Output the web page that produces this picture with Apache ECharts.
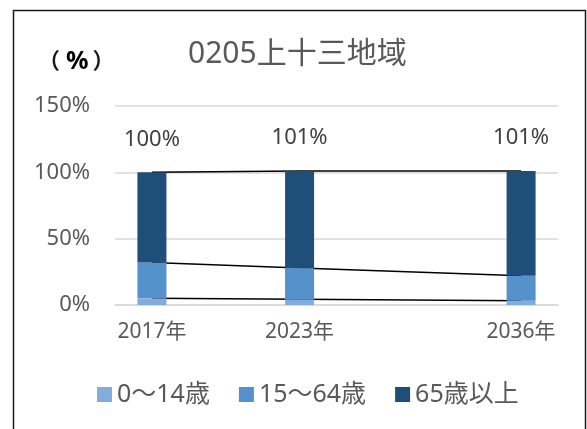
<!DOCTYPE html>
<html>
<head>
<meta charset="utf-8">
<style>
  html, body { margin: 0; padding: 0; background: #fff; }
  #chart { width: 587px; height: 429px; }
</style>
<script src="https://cdn.jsdelivr.net/npm/echarts@6/dist/echarts.min.js"></script>
</head>
<body>
<div id="chart"></div>
<script>
// Population share by age group, 上十三地域 (2017 / 2023 / 2036)
// Empty slots keep the time spacing between the survey years.
const categories = ['2017年', '', '2023年', '', '', '2036年'];
const age0to14  = [5.0, null, 4.3, null, null, 3.2];
const age15to64 = [27.1, null, 23.5, null, null, 18.8];
const age65plus = [67.9, null, 73.2, null, null, 79.0];
const yTicks = [0, 50, 100, 150];

const FONT = "'Noto Sans', 'Noto Sans CJK JP', sans-serif";
const CJK_FONT = "'Noto Sans CJK JP', 'Noto Sans', sans-serif";
const GREY = '#595959';

// cumulative heights for the connecting series lines
const cum1 = age0to14.map(v => v);
const cum2 = age0to14.map((v, i) => v == null ? null : v + age15to64[i]);
const cum3 = age0to14.map((v, i) => v == null ? null : v + age15to64[i] + age65plus[i]);

const chart = echarts.init(document.getElementById('chart'));

const lineStyleSeries = data => ({
  type: 'line',
  data: data,
  connectNulls: true,
  symbol: 'none',
  z: 1,
  silent: true,
  lineStyle: { color: '#000', width: 1.5 },
  legendHoverLink: false
});

chart.setOption({
  animation: false,
  grid: { left: 115, right: 29, top: 106, bottom: 124 },
  graphic: [
    {
      type: 'rect',
      shape: { x: 13.5, y: 10.5, width: 572, height: 440 },
      style: { fill: 'none', stroke: '#1a1a1a', lineWidth: 1.5 },
      silent: true
    },
    {
      type: 'text',
      x: 188, y: 54,
      style: {
        text: '0205上十三地域',
        font: '30px ' + FONT,
        fill: GREY,
        textVerticalAlign: 'middle'
      }
    },
    {
      // unit caption for the value axis
      type: 'text',
      x: 38, y: 62,
      style: {
        text: '{p|（}{q|%}{p|）}',
        textVerticalAlign: 'middle',
        rich: {
          p: { fontFamily: FONT, fontWeight: 'bold', fontSize: 22, fill: '#1a1a1a', color: '#1a1a1a' },
          q: { fontFamily: FONT, fontWeight: 'bold', fontSize: 25, color: '#1a1a1a', padding: [0, 4, 0, 6] }
        }
      }
    }
  ],
  legend: {
    left: 92,
    top: 377,
    itemWidth: 15,
    itemHeight: 15,
    itemGap: 29,
    icon: 'rect',
    textStyle: { fontFamily: FONT, fontSize: 25, color: GREY },
    data: ['0～14歳', '15～64歳', '65歳以上']
  },
  xAxis: {
    type: 'category',
    data: categories,
    boundaryGap: true,
    axisLine: { show: true, lineStyle: { color: '#d9d9d9', width: 1.5 } },
    axisTick: { show: false },
    axisLabel: {
      interval: 0,
      margin: 17,
      fontFamily: FONT,
      fontSize: 21,
      color: GREY
    }
  },
  yAxis: {
    type: 'value',
    min: yTicks[0],
    max: yTicks[yTicks.length - 1],
    interval: 50,
    axisLine: { show: false },
    axisTick: { show: false },
    splitLine: { lineStyle: { color: '#d9d9d9', width: 1.5 } },
    axisLabel: {
      margin: 25,
      fontFamily: FONT,
      fontSize: 22,
      color: GREY,
      formatter: v => v + '%'
    }
  },
  series: [
    {
      name: '0～14歳',
      type: 'bar',
      stack: 'pop',
      barWidth: 29,
      z: 3,
      data: age0to14,
      itemStyle: { color: '#83acdc' }
    },
    {
      name: '15～64歳',
      type: 'bar',
      stack: 'pop',
      z: 3,
      data: age15to64,
      itemStyle: { color: '#5591ca' }
    },
    {
      name: '65歳以上',
      type: 'bar',
      stack: 'pop',
      z: 3,
      data: age65plus,
      itemStyle: { color: '#1f4e79' },
      label: {
        show: true,
        position: 'top',
        distance: 22,
        fontFamily: FONT,
        fontSize: 22,
        color: '#404040',
        formatter: p => Math.round(cum3[p.dataIndex]) + '%'
      }
    },
    lineStyleSeries(cum1),
    lineStyleSeries(cum2),
    lineStyleSeries(cum3)
  ]
});
</script>
</body>
</html>
